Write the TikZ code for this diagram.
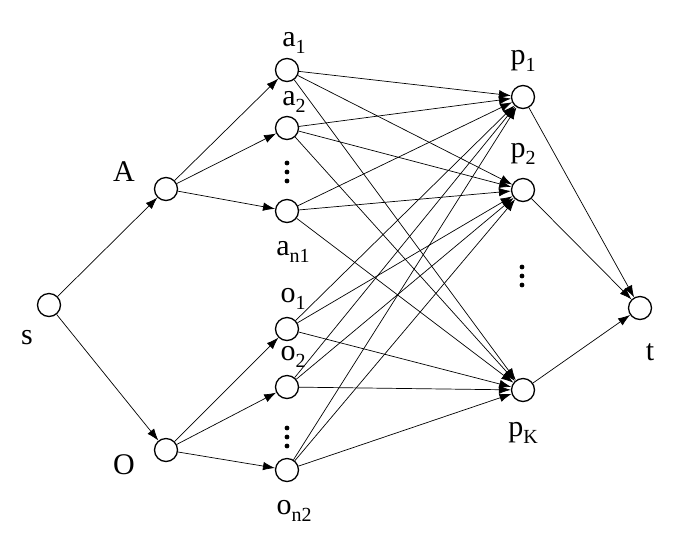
\documentclass[tikz,border=0pt]{standalone}
\usepackage{fontspec}
\setmainfont{Liberation Serif}
\usetikzlibrary{arrows.meta}
\newcommand{\lowsub}[1]{\raisebox{-0.22em}{\fontsize{20}{20}\selectfont #1}}

\tikzset{
    vertex/.style={circle,draw,line width=1.3pt,fill=white,minimum size=23pt,inner sep=0pt},
    lbl/.style={inner sep=0pt,font=\fontsize{30}{32}\selectfont},
    edge/.style={line width=0.7pt,-{Latex[length=12pt,width=8.5pt]}}
}

\begin{document}
\begin{tikzpicture}[x=1pt,y=-1pt]
    \useasboundingbox (0,0) rectangle (676,547);

    % vertices
    \node[vertex] (s) at (49,305) {};
    \node[vertex] (A) at (166,189) {};
    \node[vertex] (O) at (166,450) {};
    \node[vertex] (a1) at (287,70) {};
    \node[vertex] (a2) at (287,128) {};
    \node[vertex] (an) at (287,211) {};
    \node[vertex] (o1) at (287,329) {};
    \node[vertex] (o2) at (287,387) {};
    \node[vertex] (on) at (287,470) {};
    \node[vertex] (p1) at (523,97) {};
    \node[vertex] (p2) at (523,190) {};
    \node[vertex] (pK) at (523,390) {};
    \node[vertex] (t) at (640,308) {};

    % labels
    \node[lbl] (ls) at (27,338) {s};
    \node[lbl] (lA) at (124,172) {A};
    \node[lbl] (lO) at (124,465) {O};
    \node[lbl] (la1) at (294,43) {a\lowsub{1}};
    \node[lbl] (la2) at (294,102) {a\lowsub{2}};
    \node[lbl] (lan) at (293,252) {a\lowsub{n1}};
    \node[lbl] (lo1) at (293,299) {o\lowsub{1}};
    \node[lbl] (lo2) at (293,357) {o\lowsub{2}};
    \node[lbl] (lon) at (294,511) {o\lowsub{n2}};
    \node[lbl] (lp1) at (523,61) {p\lowsub{1}};
    \node[lbl] (lp2) at (523,154) {p\lowsub{2}};
    \node[lbl] (lpK) at (523,433) {p\lowsub{K}};
    \node[lbl] (lt) at (650,352) {t};

    % dots
    \foreach \x/\y in {287/163, 287/428, 522/267}
        \foreach \d in {0,9,18}
            \fill (\x,\y+\d) circle (2.4pt);

    % edges
    \draw[edge] (s) -- (A);
    \draw[edge] (s) -- (O);
    \foreach \v in {a1,a2,an}
        \draw[edge] (A) -- (\v);
    \foreach \v in {o1,o2,on}
        \draw[edge] (O) -- (\v);
    \foreach \u in {a1,a2,an,o1,o2,on}
        \foreach \v in {p1,p2,pK}
            \draw[edge] (\u) -- (\v);
    \foreach \v in {p1,p2,pK}
        \draw[edge] (\v) -- (t);
\end{tikzpicture}
\end{document}
